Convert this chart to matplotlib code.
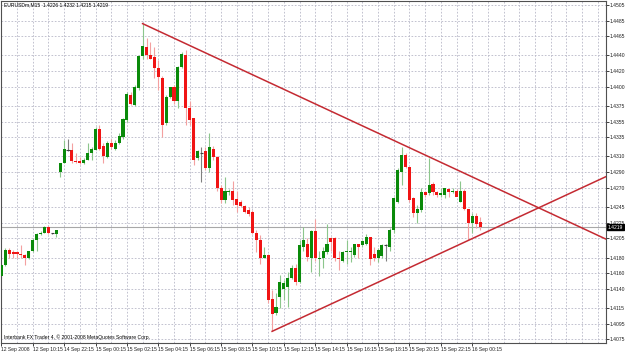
import matplotlib
matplotlib.use('Agg')
import matplotlib.pyplot as plt
from matplotlib import font_manager
import numpy as np

# EURUSDm M15 candles
opens = [1.4156, 1.4170, 1.4190, 1.4187, 1.4187, 1.4185, 1.4183, 1.4179, 1.4189, 1.4202,
         1.4210, 1.4212, 1.4219, 1.4211, 1.4210, 1.4290, 1.4302, 1.4319, 1.4318, 1.4304,
         1.4304, 1.4301, 1.4306, 1.4315, 1.4319, 1.4346, 1.4324, 1.4309, 1.4327, 1.4320,
         1.4327, 1.4335, 1.4357, 1.4389, 1.4376, 1.4398, 1.4439, 1.4451, 1.4440, 1.4438,
         1.4424, 1.4411, 1.4353, 1.4387, 1.4399, 1.4381, 1.4425, 1.4440, 1.4372, 1.4359,
         1.4308, 1.4315, 1.4317, 1.4295, 1.4320, 1.4309, 1.4270, 1.4254, 1.4264, 1.4266,
         1.4255, 1.4251, 1.4246, 1.4241, 1.4238, 1.4212, 1.4202, 1.4180, 1.4183, 1.4126,
         1.4108, 1.4129, 1.4140, 1.4142, 1.4154, 1.4167, 1.4148, 1.4194, 1.4198, 1.4180,
         1.4214, 1.4178, 1.4180, 1.4187, 1.4205, 1.4205, 1.4179, 1.4176, 1.4187, 1.4187,
         1.4183, 1.4197, 1.4196, 1.4198, 1.4206, 1.4185, 1.4179, 1.4182, 1.4196, 1.4193,
         1.4215, 1.4251, 1.4290, 1.4312, 1.4296, 1.4256, 1.4237, 1.4241, 1.4264, 1.4263,
         1.4275, 1.4264, 1.4261, 1.4261, 1.4268, 1.4264, 1.4266, 1.4252, 1.4266, 1.4242,
         1.4225, 1.4234, 1.4226]
highs = [1.4172, 1.4192, 1.4192, 1.4190, 1.4189, 1.4196, 1.4185, 1.4189, 1.4205, 1.4211,
         1.4214, 1.4220, 1.4221, 1.4212, 1.4216, 1.4302, 1.4331, 1.4333, 1.4327, 1.4315,
         1.4309, 1.4308, 1.4328, 1.4322, 1.4348, 1.4350, 1.4327, 1.4330, 1.4332, 1.4331,
         1.4340, 1.4359, 1.4393, 1.4393, 1.4402, 1.4440, 1.4481, 1.4463, 1.4457, 1.4451,
         1.4434, 1.4414, 1.4389, 1.4400, 1.4402, 1.4427, 1.4444, 1.4447, 1.4382, 1.4360,
         1.4318, 1.4322, 1.4322, 1.4340, 1.4323, 1.4310, 1.4273, 1.4283, 1.4268, 1.4279,
         1.4266, 1.4254, 1.4247, 1.4245, 1.4241, 1.4215, 1.4209, 1.4193, 1.4184, 1.4138,
         1.4134, 1.4157, 1.4151, 1.4161, 1.4170, 1.4172, 1.4202, 1.4219, 1.4205, 1.4215,
         1.4230, 1.4189, 1.4193, 1.4223, 1.4207, 1.4206, 1.4189, 1.4189, 1.4202, 1.4194,
         1.4198, 1.4198, 1.4202, 1.4210, 1.4207, 1.4193, 1.4192, 1.4198, 1.4198, 1.4218,
         1.4258, 1.4295, 1.4322, 1.4314, 1.4297, 1.4258, 1.4247, 1.4269, 1.4266, 1.4308,
         1.4277, 1.4266, 1.4270, 1.4265, 1.4269, 1.4269, 1.4268, 1.4278, 1.4268, 1.4243,
         1.4237, 1.4237, 1.4232]
lows = [1.4154, 1.4169, 1.4179, 1.4180, 1.4180, 1.4180, 1.4171, 1.4178, 1.4187, 1.4189,
        1.4209, 1.4211, 1.4210, 1.4210, 1.4207, 1.4283, 1.4301, 1.4317, 1.4302, 1.4301,
        1.4300, 1.4300, 1.4305, 1.4305, 1.4318, 1.4318, 1.4302, 1.4308, 1.4320, 1.4319,
        1.4326, 1.4333, 1.4355, 1.4376, 1.4375, 1.4396, 1.4436, 1.4435, 1.4435, 1.4411,
        1.4395, 1.4335, 1.4350, 1.4385, 1.4378, 1.4373, 1.4424, 1.4350, 1.4350, 1.4299,
        1.4305, 1.4277, 1.4292, 1.4290, 1.4305, 1.4266, 1.4250, 1.4250, 1.4261, 1.4247,
        1.4238, 1.4245, 1.4237, 1.4233, 1.4210, 1.4187, 1.4172, 1.4179, 1.4122, 1.4085,
        1.4106, 1.4115, 1.4125, 1.4116, 1.4152, 1.4145, 1.4147, 1.4189, 1.4176, 1.4161,
        1.4176, 1.4156, 1.4166, 1.4185, 1.4189, 1.4176, 1.4164, 1.4174, 1.4172, 1.4174,
        1.4181, 1.4179, 1.4193, 1.4196, 1.4171, 1.4176, 1.4174, 1.4180, 1.4176, 1.4189,
        1.4212, 1.4250, 1.4273, 1.4295, 1.4251, 1.4232, 1.4224, 1.4239, 1.4258, 1.4261,
        1.4261, 1.4258, 1.4258, 1.4257, 1.4258, 1.4263, 1.4260, 1.4251, 1.4241, 1.4202,
        1.4212, 1.4218, 1.4215]
closes = [1.4170, 1.4190, 1.4185, 1.4184, 1.4184, 1.4183, 1.4179, 1.4188, 1.4202, 1.4210,
          1.4212, 1.4219, 1.4211, 1.4211, 1.4215, 1.4301, 1.4320, 1.4319, 1.4304, 1.4303,
          1.4302, 1.4306, 1.4315, 1.4320, 1.4346, 1.4320, 1.4310, 1.4327, 1.4322, 1.4328,
          1.4337, 1.4358, 1.4391, 1.4377, 1.4399, 1.4439, 1.4452, 1.4440, 1.4436, 1.4424,
          1.4412, 1.4350, 1.4387, 1.4399, 1.4382, 1.4425, 1.4442, 1.4372, 1.4357, 1.4305,
          1.4317, 1.4315, 1.4295, 1.4322, 1.4309, 1.4269, 1.4254, 1.4265, 1.4266, 1.4254,
          1.4248, 1.4246, 1.4238, 1.4236, 1.4211, 1.4202, 1.4180, 1.4183, 1.4125, 1.4107,
          1.4116, 1.4149, 1.4147, 1.4154, 1.4167, 1.4148, 1.4196, 1.4202, 1.4181, 1.4214,
          1.4179, 1.4180, 1.4189, 1.4198, 1.4200, 1.4179, 1.4178, 1.4187, 1.4189, 1.4189,
          1.4197, 1.4193, 1.4201, 1.4207, 1.4178, 1.4179, 1.4190, 1.4196, 1.4196, 1.4215,
          1.4256, 1.4292, 1.4312, 1.4296, 1.4254, 1.4237, 1.4243, 1.4264, 1.4261, 1.4273,
          1.4264, 1.4261, 1.4263, 1.4269, 1.4264, 1.4266, 1.4258, 1.4266, 1.4242, 1.4225,
          1.4233, 1.4223, 1.4219]

time_labels = ['12 Sep 2008', '12 Sep 10:15', '14 Sep 22:15', '15 Sep 00:15', '15 Sep 02:15',
               '15 Sep 04:15', '15 Sep 06:15', '15 Sep 08:15', '15 Sep 10:15', '15 Sep 12:15',
               '15 Sep 14:15', '15 Sep 16:15', '15 Sep 18:15', '15 Sep 20:15', '15 Sep 22:15',
               '16 Sep 00:15']
price_ticks = [1.4505, 1.4485, 1.4465, 1.4440, 1.4420, 1.4400, 1.4375, 1.4355, 1.4335, 1.4310,
               1.4290, 1.4270, 1.4245, 1.4225, 1.4205, 1.4180, 1.4160, 1.4140, 1.4115, 1.4095,
               1.4075]

# trend lines: two anchor points (bar, price), extended to the right edge
upper_line = [(36, 1.4481), (102, 1.4326)]
lower_line = [(69, 1.4085), (119, 1.4202)]
last_price = 1.4219
header = 'EURUSDm,M15  1.4226 1.4232 1.4215 1.4219'
footer = 'Interbank FX Trader 4, \u00a9 2001-2008 MetaQuotes Software Corp.'

# small narrow font like the terminal's bitmap font
names = {f.name for f in font_manager.fontManager.ttflist}
if 'Liberation Sans Narrow' in names:
    fam, fs = 'Liberation Sans Narrow', 4.4
else:
    fam, fs = 'Liberation Sans', 3.6
plt.rcParams['font.family'] = [fam, 'DejaVu Sans']

o = np.array(opens); h = np.array(highs); l = np.array(lows); c = np.array(closes)
idx = np.arange(len(o))

fig = plt.figure(figsize=(6.25, 3.52), dpi=100)
ax = fig.add_axes([0.001, 9 / 352, 605 / 625, 342 / 352])
x_right = 154.0
ax.set_xlim(-0.18, x_right)
ax.set_ylim(1.40700, 1.45101)

# grid
grid_kw = dict(color='#b8b8c8', lw=0.6, linestyle=(0, (2, 2)), zorder=0)
for gx in range(0, int(x_right) + 1, 4):
    ax.axvline(gx, **grid_kw)
for gy in price_ticks:
    ax.axhline(gy, **grid_kw)

# candles
up = c > o
doji = np.abs(c - o) < 0.00005
wick_col = np.where(doji, '#808080', np.where(up, '#8cc68c', '#f4a0a0'))
ax.vlines(idx, l, h, colors=wick_col, lw=0.8, zorder=2)
body_h = np.maximum(np.abs(c - o), 0.00012)
body_b = np.minimum(o, c)
body_col = np.where(up, '#0a8a0a', '#f01414')
mask = ~doji
ax.bar(idx[mask], body_h[mask], bottom=body_b[mask], width=0.78,
       color=body_col[mask], linewidth=0, zorder=3)
ax.hlines(o[doji], idx[doji] - 0.4, idx[doji] + 0.4, colors='#404040', lw=0.8, zorder=3)

# current price line
ax.axhline(last_price, color='#a8a8a8', lw=0.8, zorder=1)

# trend lines
for (x0, y0), (x1, y1) in (upper_line, lower_line):
    slope = (y1 - y0) / (x1 - x0)
    xs = np.array([x0, x_right])
    ax.plot(xs, y0 + slope * (xs - x0), color='#c42a32', lw=1.1, zorder=4)

# axes styling
for sp in ax.spines.values():
    sp.set_color('#505050')
    sp.set_linewidth(0.8)
ax.yaxis.tick_right()
ax.set_yticks(price_ticks)
ax.set_yticklabels(['%.4f' % p for p in price_ticks])
ax.tick_params(axis='y', labelsize=fs, length=2, width=0.6, pad=1, colors='#202020')
ax.set_xticks(range(0, 8 * len(time_labels), 8))
ax.set_xticklabels(time_labels)
plt.setp(ax.get_xticklabels(), ha='left')
ax.tick_params(axis='x', labelsize=fs, length=2, width=0.6, pad=1, colors='#202020')

ax.annotate('%.4f' % last_price, xy=(1.0, last_price), xycoords=('axes fraction', 'data'),
            xytext=(1.5, 0), textcoords='offset points', va='center', ha='left',
            fontsize=fs, color='white',
            bbox=dict(boxstyle='square,pad=0.15', fc='black', ec='black'))

ax.text(0.005, 0.995, header, transform=ax.transAxes, fontsize=fs, va='top', ha='left')
ax.text(0.005, 0.008, footer, transform=ax.transAxes, fontsize=fs, va='bottom', ha='left')

fig.savefig('out.png', dpi=100)
